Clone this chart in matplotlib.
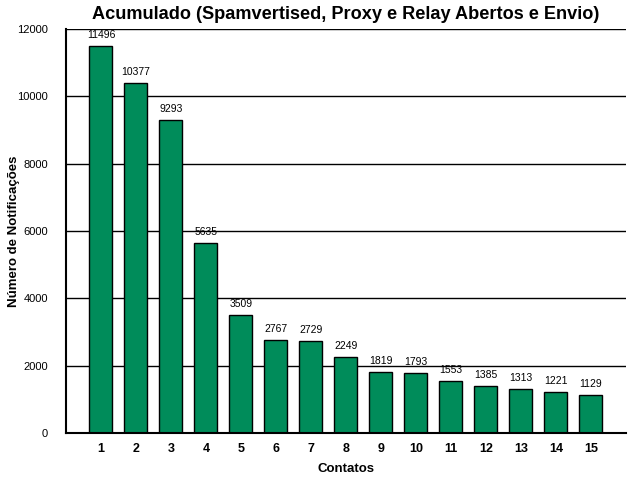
import matplotlib
matplotlib.use("Agg")
import matplotlib.pyplot as plt

plt.rcParams['font.family'] = ['Liberation Sans', 'DejaVu Sans']

# Data
contatos = list(range(1, 16))
notificacoes = [11496, 10377, 9293, 5635, 3509, 2767, 2729, 2249, 1819, 1793,
                1553, 1385, 1313, 1221, 1129]
yticks = [0, 2000, 4000, 6000, 8000, 10000, 12000]

fig = plt.figure(figsize=(6.4, 4.8), dpi=100)
ax = fig.add_axes([0.103, 0.098, 0.875, 0.842])

ax.set_axisbelow(True)
ax.yaxis.grid(True, color='black', linewidth=1)
bars = ax.bar(contatos, notificacoes, width=0.66, color='#008C5A',
              edgecolor='black', linewidth=1)

for x, v in zip(contatos, notificacoes):
    ax.text(x, v + 180, str(v), ha='center', va='bottom', fontsize=7.5)

ax.set_xlim(0, 16)
ax.set_ylim(0, 12000)
ax.set_xticks(contatos)
ax.set_xticklabels([str(c) for c in contatos], fontweight='bold', fontsize=9)
ax.set_yticks(yticks)
ax.set_yticklabels([str(t) for t in yticks], fontsize=8)
ax.tick_params(axis='x', length=0, pad=7)
ax.tick_params(axis='y', length=0, pad=13)

for s in ['top', 'right']:
    ax.spines[s].set_visible(False)
ax.spines['left'].set_linewidth(1.5)
ax.spines['bottom'].set_linewidth(1.5)

ax.set_xlabel('Contatos', fontweight='bold', fontsize=9.5, labelpad=6)
ax.set_ylabel('Número de Notificações', fontweight='bold', fontsize=9.5)
ax.yaxis.set_label_coords(-0.082, 0.5)
ax.set_title('Acumulado (Spamvertised, Proxy e Relay Abertos e Envio)',
             fontweight='bold', fontsize=13.1, pad=7)

fig.savefig('out.png', dpi=100)
